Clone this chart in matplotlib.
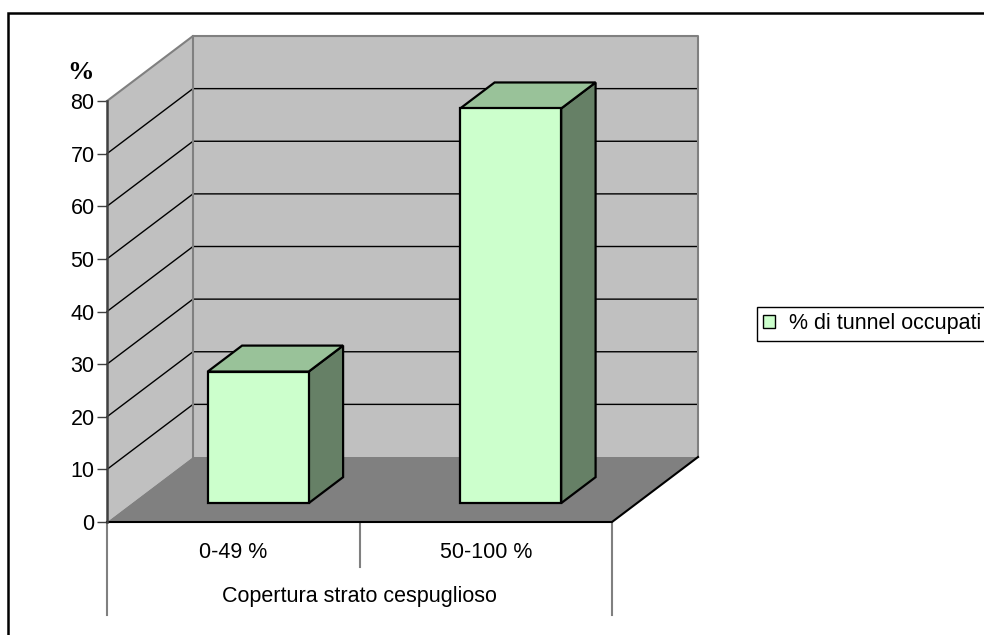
import matplotlib
matplotlib.use('Agg')
import matplotlib.pyplot as plt
from matplotlib.patches import Polygon, Rectangle, Patch

plt.rcParams['font.family'] = ['Liberation Sans', 'DejaVu Sans']

# data
categories = ['0-49 %', '50-100 %']
occupied = [25, 75]
yticks = [0, 10, 20, 30, 40, 50, 60, 70, 80]
series_name = '% di tunnel occupati'
x_title = 'Copertura strato cespuglioso'

W, H = 984, 635
fig = plt.figure(figsize=(W / 100, H / 100), dpi=100)
ax = fig.add_axes([107 / W, 113 / H, 505 / W, 421 / H])
n = len(categories)
top = yticks[-1]
ax.set_xlim(0, n)
ax.set_ylim(0, top)

# depth of the 3d box in data units, bar placement inside it
ddx, ddy = 0.3406, 12.35
f0, f1 = 0.29, 0.69
bw = 0.4

wall = '#C0C0C0'
floor = '#808080'
front_c = '#CCFFCC'
top_c = '#99C299'
side_c = '#668066'


def poly(pts, fc, ec='none', lw=1.0, z=1):
    ax.add_patch(Polygon(pts, closed=True, facecolor=fc, edgecolor=ec,
                         linewidth=lw, zorder=z, clip_on=False,
                         joinstyle='miter'))


# walls and floor
poly([(0, 0), (ddx, ddy), (ddx, top + ddy), (0, top)], wall)
poly([(ddx, ddy), (n + ddx, ddy), (n + ddx, top + ddy), (ddx, top + ddy)], wall)
poly([(0, 0), (n, 0), (n + ddx, ddy), (ddx, ddy)], floor)

for v in yticks[1:-1]:
    ax.plot([0, ddx, n + ddx], [v, v + ddy, v + ddy], color='black', lw=1,
            zorder=2, clip_on=False)

ax.plot([0, ddx, n + ddx, n + ddx], [top, top + ddy, top + ddy, ddy],
        color='#808080', lw=1.5, zorder=2, clip_on=False)
ax.plot([ddx, ddx], [ddy, top + ddy], color='#808080', lw=1.5, zorder=2,
        clip_on=False)
ax.plot([0, n, n + ddx], [0, 0, ddy], color='black', lw=1.5, zorder=3,
        clip_on=False)

# bars
dx = (f1 - f0) * ddx
dy = (f1 - f0) * ddy
for i, v in enumerate(occupied):
    x0 = i + 0.5 - bw / 2 + f0 * ddx
    y0 = f0 * ddy
    poly([(x0 + bw, y0), (x0 + bw + dx, y0 + dy), (x0 + bw + dx, y0 + v + dy),
          (x0 + bw, y0 + v)], side_c, 'black', 1.6, 4)
    poly([(x0, y0 + v), (x0 + bw, y0 + v), (x0 + bw + dx, y0 + v + dy),
          (x0 + dx, y0 + v + dy)], top_c, 'black', 1.6, 4)
    poly([(x0, y0), (x0 + bw, y0), (x0 + bw, y0 + v), (x0, y0 + v)],
         front_c, 'black', 1.6, 5)

# axes styling
for s in ['top', 'right', 'bottom']:
    ax.spines[s].set_visible(False)
ax.spines['left'].set_color('#404040')
ax.spines['left'].set_linewidth(1.8)
ax.spines['left'].set_zorder(6)
ax.set_xticks([])
ax.set_yticks(yticks)
ax.tick_params(axis='y', length=7, width=1, color='#404040', pad=2,
               labelsize=15.5)

# category area below the floor
tr = ax.get_xaxis_transform()
for x, y_end in [(0, -0.221), (1, -0.107), (n, -0.221)]:
    ax.plot([x, x], [0, y_end], transform=tr, color='#808080', lw=1.5,
            clip_on=False)
for i, c in enumerate(categories):
    ax.text(i + 0.5, -0.0855, c, transform=tr, ha='center', va='baseline',
            fontsize=15.5)
ax.text(n / 2, -0.19, x_title, transform=tr, ha='center', va='baseline',
        fontsize=15.5)

fig.text(80 / W, 1 - 79 / H, '%', ha='center', va='baseline', fontsize=19,
         fontweight='bold', family='Liberation Serif')

# outer chart frame
fig.add_artist(Rectangle((8 / W, -0.05), 1.0, (H - 13) / H + 0.05,
                         transform=fig.transFigure, fill=False,
                         edgecolor='black', linewidth=1.8))

leg = fig.legend(handles=[Patch(facecolor=front_c, edgecolor='black', lw=1)],
                 labels=[series_name], loc='upper left',
                 bbox_to_anchor=(757 / W, 1 - 307 / H), frameon=True,
                 fancybox=False, edgecolor='black', borderpad=0.3,
                 handlelength=0.55, handleheight=0.55, handletextpad=0.65,
                 borderaxespad=0, fontsize=15.5)
leg.get_frame().set_linewidth(1)
leg.get_frame().set_alpha(1)

fig.savefig('out.png', dpi=100)
